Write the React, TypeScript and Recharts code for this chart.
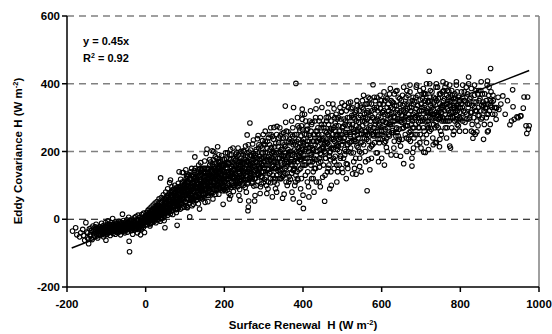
import React from "react";
import { ScatterChart, Scatter, XAxis, YAxis, ReferenceLine } from "recharts";

// Surface Renewal H (x) vs Eddy Covariance H (y), W m-2, flat [x, y, x, y, ...]
const ptsNeg = [
  -186,-35, -178,-25, -175,-46, -168,-52, -165,-40, -160,-30, -158,-48, -155,-62, -152,-10, -150,-38, -148,-55, -145,-58, -145,-72, -143,-28, -140,-45, -138,-33, -136,-60, -134,-20,
  -132,-42, -130,-50, -129,-30, -127,-38, -126,-15, -124,-45, -122,-55, -121,-25, -120,-35, -118,-40, -117,-22, -115,-48, -114,-30, -112,-12, -111,-36, -110,-44, -108,-28, -107,-52, -106,-18, -105,-34, -104,-40, -103,-24, -102,-10, -101,-62, -100,-30, -99,-45, -98,-20, -97,-36, -96,-5, -95,-28,
  -94,-40, -93,-15, -92,-26, -91,-33, -90,-48, -89,-20, -88,-10, -87,-30, -86,-38, -85,-22, -84,2, -83,-42, -82,-28, -81,-16, -80,-34, -79,-24, -78,-8, -77,-44, -76,-30, -75,-18, -74,-26, -73,-36, -72,-12, -71,-20, -70,-40, -69,-28, -68,-6, -67,-22, -66,-34, -65,-15, -64,-46, -63,-25, -62,-10, -61,-30, -60,-18, -59,15, -58,-36, -57,-22, -56,-4, -55,-28, -54,-14, -53,-40, -52,-20, -51,-8,
  -50,-30, -49,-16, -48,-2, -47,-24, -46,-38, -45,-12, -44,-20, -43,6, -42,-65, -41,-96, -40,-28, -39,-10, -38,-18, -37,-34, -36,0, -35,-22, -34,-14, -33,-44, -32,-6, -31,-26, -30,-16, -29,4, -28,-32, -27,-10, -26,-20, -25,8, -24,-2, -23,-28, -22,-14, -21,-40, -20,-6, -19,12, -18,-18, -17,-2, -16,-24, -15,6, -14,-10, -13,-46, -12,0, -11,-16, -10,14, -9,-8, -8,-20, -7,4, -6,-4, -5,18, -4,-12, -3,-39, -2,8, -1,-2,
  -147,-40, -139,-26, -133,-36, -128,-22, -123,-31, -119,-44, -116,-27, -113,-38, -109,-20, -106,-30, -103,-35, -99,-25, -97,-14, -94,-31, -92,-20, -90,-37, -88,-26, -86,-16, -84,-29, -82,-35, -80,-21, -78,-30, -76,-12, -74,-38, -72,-24, -70,-16, -68,-32, -66,-19, -64,-27, -62,-36, -60,-12, -58,-24, -56,-30, -54,-18, -52,-34, -50,-8, -48,-22, -46,-28, -44,-12, -42,-30, -40,-18, -38,-4, -36,-24, -34,-32, -32,-14, -30,-22, -28,-8, -26,-28, -24,-14, -22,-22, -20,-2, -18,-30, -16,-10, -14,-20, -12,-26, -10,-4, -8,-14, -6,-24, -4,0, -2,-18,
  -141,-50, -131,-46, -126,-26, -117,-34, -111,-24, -104,-46, -96,-40, -89,-30, -83,-20, -77,-24, -71,-30, -65,-8, -59,-30, -53,-26, -47,-10, -41,-24, -35,-12, -29,-26, -23,-18, -17,-12, -11,-30, -5,-8,
];
const ptsLow = [
  0,10, 1,-8, 2,20, 3,2, 4,-16, 5,14, 6,26, 7,4, 8,-6, 9,30, 10,12, 11,-20, 12,22, 13,6, 14,36, 15,16, 16,-2, 17,28, 18,10, 19,42, 20,18, 21,0, 22,32, 23,12, 24,48, 25,22, 26,-10, 27,38, 28,16, 29,52, 30,26, 31,6, 32,44, 33,20, 34,60, 35,30, 36,10, 37,50, 38,122, 39,24, 40,64, 41,36, 42,14, 43,56, 44,30, 45,72, 46,40, 47,-4, 48,62, 49,-25, 50,34,
  51,80, 52,46, 53,20, 54,68, 55,38, 56,90, 57,54, 58,26, 59,74, 60,44, 61,108, 62,60, 63,116, 64,32, 65,82, 66,50, 67,96, 68,66, 69,14, 70,40, 71,88, 72,58, 73,76, 74,100, 75,46, 76,70, 77,28, 78,92, 79,62, 80,-18, 81,84, 82,52, 83,106, 84,72, 85,140, 86,40, 87,94, 88,64, 89,118, 90,80, 91,56, 92,100, 93,138, 94,74, 95,90, 96,138, 97,60, 98,112, 99,84, 100,50, 102,146, 104,96,
  2,0, 4,8, 6,-4, 8,16, 10,-2, 12,6, 14,-12, 16,12, 18,24, 20,4, 22,-6, 24,20, 26,10, 28,30, 30,0, 32,18, 34,8, 36,34, 38,14, 40,2, 42,26, 44,40, 46,18, 48,8, 50,48, 52,22, 54,36, 56,12, 58,58, 60,28, 62,42, 64,70, 66,24, 68,46, 70,60, 72,34, 74,80, 76,52, 78,20, 80,66, 82,40, 84,88, 86,58, 88,30, 90,72, 92,46, 94,96, 96,62, 98,36, 100,78,
  3,14, 7,-10, 11,4, 15,26, 19,8, 23,-2, 27,22, 31,40, 35,16, 39,4, 43,32, 47,20, 51,58, 55,26, 59,44, 63,16, 67,36, 71,76, 75,30, 79,50, 83,60, 87,46, 91,84, 95,54, 99,102, 57,70, 61,34, 65,64, 69,28, 73,50, 77,82, 81,30, 85,50, 89,98, 93,62, 97,80, 13,18, 17,-8, 21,30, 25,2, 29,14, 33,34, 37,-6, 41,48, 45,10, 49,42, 53,64, 9,0, 5,-2, 1,4,
  5,6, 9,18, 14,2, 18,-4, 23,28, 27,8, 32,-2, 36,22, 41,14, 45,28, 50,16, 54,50, 58,36, 63,54, 67,80, 71,46, 76,62, 80,44, 85,78, 89,56, 94,84, 98,70, 12,-14, 21,16, 30,34, 39,38, 48,26, 57,42, 66,72, 75,88, 84,36, 93,110,
  3,-4, 8,10, 13,24, 19,-2, 24,12, 29,40, 34,18, 40,30, 44,4, 49,54, 53,38, 59,20, 64,48, 68,86, 73,38, 78,70, 82,96, 87,72, 92,34, 97,94,
];
const ptsLow2 = [
  101,70, 103,120, 105,36, 106,88, 107,104, 108,62, 110,132, 111,78, 112,7, 113,98, 114,56, 115,116, 116,84, 117,150, 118,70, 119,108, 120,92, 121,44, 122,126, 123,80, 124,100, 125,184, 126,66, 127,114, 128,90, 129,140, 130,58, 131,106, 132,84, 133,124, 134,72, 135,160, 136,96, 137,30, 138,118, 139,86, 140,167, 141,104, 142,64, 143,132, 144,92, 145,150, 146,110, 147,76, 148,126, 149,98, 150,172, 151,50, 152,116,
  153,136, 154,194, 155,88, 156,207, 157,120, 158,104, 159,146, 160,70, 161,128, 162,92, 163,160, 164,112, 165,169, 166,80, 167,140, 168,100, 169,202, 170,124, 171,60, 172,150, 173,200, 174,108, 175,132, 176,86, 177,166, 178,118, 179,142, 180,96, 181,180, 182,126, 183,214, 184,104, 185,152, 186,74, 187,136, 188,112, 189,170, 190,90, 191,146, 192,128, 193,188, 194,100, 195,158, 196,120, 197,44, 198,140, 199,110, 200,176, 201,132, 202,84,
  104,60, 108,84, 112,48, 116,100, 120,70, 124,120, 128,56, 132,94, 136,76, 140,112, 144,60, 148,136, 152,88, 156,70, 160,118, 164,96, 168,146, 172,80, 176,110, 180,132, 184,90, 188,154, 192,106, 196,84, 200,140,
  102,92, 106,34, 110,110, 114,72, 118,128, 122,58, 126,96, 130,116, 134,46, 138,100, 142,142, 146,84, 150,104, 154,130, 158,52, 162,108, 166,126, 170,92, 174,156, 178,74, 182,112, 186,168, 190,122, 194,144, 198,96,
  101,52, 105,76, 109,96, 113,64, 117,86, 121,106, 125,80, 129,124, 133,66, 137,90, 141,118, 145,74, 149,112, 153,96, 157,150, 161,84, 165,114, 169,136, 173,88, 177,128, 181,104, 185,138, 189,98, 193,120, 197,160,
  103,40, 107,112, 111,84, 115,58, 119,94, 123,138, 127,70, 131,102, 135,128, 139,62, 143,96, 147,118, 151,140, 155,108, 159,92, 163,130, 167,76, 171,110, 175,148, 179,118, 183,136, 187,94, 191,172, 195,106, 199,126,
  104,128, 112,118, 118,40, 126,150, 134,104, 142,86, 150,128, 158,122, 166,98, 174,126, 182,150, 190,110, 198,160, 109,70, 117,62, 125,110, 133,146, 141,70, 149,88, 157,134, 165,144, 173,112, 181,86, 189,140, 197,118,
  102,110, 107,80, 113,122, 119,76, 124,144, 130,96, 136,138, 141,90, 147,100, 153,150, 158,80, 164,122, 170,162, 176,98, 181,142, 187,120, 193,154, 199,88, 106,126, 115,140, 128,72, 139,150, 152,74, 163,176, 177,184, 186,190, 195,176,
  103,84, 108,130, 114,94, 120,54, 126,124, 131,80, 137,112, 143,146, 148,64, 154,112, 160,150, 166,110, 171,130, 178,150, 183,100, 189,160, 194,132, 200,112, 105,100, 116,130, 127,96, 138,130, 149,150, 161,100, 172,176, 184,170, 196,146,
];
const ptsMid = [
  204,150, 206,118, 208,196, 210,104, 212,166, 214,136, 216,70, 218,156, 220,122, 222,210, 224,144, 226,96, 228,174, 230,130, 232,186, 234,112, 236,160, 238,140, 240,56, 242,200, 244,124, 246,152, 248,100, 250,180, 252,136, 254,216, 256,116, 258,249, 259,168, 260,25, 261,36, 262,54, 263,146, 265,284, 266,190, 267,128, 268,160, 270,106, 272,222, 274,140, 276,176, 277,54, 279,120, 280,200,
  282,150, 284,238, 286,247, 288,132, 290,186, 292,96, 294,164, 296,210, 298,140, 300,180, 302,118, 304,230, 306,160, 308,76, 310,196, 312,146, 314,250, 316,174, 318,108, 320,212, 322,156, 324,130, 326,271, 328,190, 330,90, 332,168, 334,274, 336,144, 338,226, 340,180, 342,120, 344,206, 346,160, 348,62, 350,240, 352,188, 354,134, 355,334, 356,216, 358,170, 360,100, 362,258, 364,196, 366,150, 368,226, 370,176, 372,80, 374,246, 376,330, 378,204, 380,160, 382,401, 384,230, 386,120, 388,190, 390,270,
  202,110, 205,140, 207,86, 209,164, 211,120, 213,98, 215,150, 217,176, 219,110, 221,134, 223,82, 225,160, 227,122, 229,192, 231,104, 233,146, 235,170, 237,124, 239,88, 241,156, 243,114, 245,196, 247,140, 249,118, 251,166, 253,94, 255,150, 257,128, 259,186, 261,108, 263,170, 265,136, 267,204, 269,150, 271,120, 273,178, 275,98, 277,156, 279,190, 281,132, 283,168, 285,112, 287,210, 289,148, 291,176, 293,126, 295,196, 297,160, 299,108, 300,222,
  203,160, 206,94, 209,132, 212,180, 215,116, 218,140, 221,168, 224,100, 227,146, 230,178, 233,120, 236,190, 239,136, 242,162, 245,104, 248,144, 251,200, 254,130, 257,160, 260,118, 263,198, 266,142, 269,172, 272,110, 275,186, 278,144, 281,206, 284,160, 287,130, 290,150, 293,216, 296,178, 299,140,
  204,126, 208,150, 212,76, 216,128, 220,100, 224,180, 228,136, 232,114, 236,150, 240,124, 244,170, 248,202, 252,150, 256,170, 260,140, 264,120, 268,188, 272,156, 276,132, 280,170, 284,136, 288,186, 292,150, 296,124, 300,160,
  201,90, 210,140, 214,190, 222,146, 226,126, 234,96, 238,168, 246,124, 250,150, 258,104, 262,152, 270,136, 274,194, 282,182, 286,150, 294,104, 298,196, 205,180, 217,94, 229,154, 241,118, 253,176, 265,162, 277,120, 289,166, 297,232, 211,164, 223,120, 235,140, 247,166, 259,140, 271,166, 283,146, 295,140,
  203,196, 209,118, 216,206, 222,160, 228,112, 235,210, 241,172, 247,108, 254,184, 261,220, 268,124, 274,234, 281,100, 288,220, 294,180, 299,250, 213,60, 237,70, 256,80, 278,70, 291,76,
  206,166, 212,126, 218,190, 224,120, 230,160, 236,106, 242,180, 248,130, 208,100, 219,140, 231,196, 243,146,
];
const ptsMid2 = [
  392,214, 394,150, 396,176, 398,325, 398,310, 398,295, 400,71, 401,32, 402,236, 404,200, 406,130, 408,264, 410,180, 412,220, 414,96, 416,248, 418,190, 420,160, 422,280, 424,206, 426,140, 428,230, 430,176, 432,300, 434,110, 436,349, 438,216, 440,250, 442,154, 444,194, 446,270, 448,232, 450,124, 452,210, 455,53, 456,260, 458,180, 460,290, 462,224, 464,150, 465,341, 466,246, 468,196, 470,268, 472,100, 474,236, 476,340, 478,206, 480,170, 482,284, 484,250, 486,216,
  302,150, 304,196, 306,124, 308,176, 310,230, 312,110, 314,160, 316,204, 318,140, 320,182, 322,244, 324,120, 326,170, 328,214, 330,150, 332,196, 334,104, 336,180, 338,240, 340,140, 342,200, 344,166, 346,252, 348,126, 350,186, 352,220, 354,150, 356,176, 358,260, 360,134, 362,206, 364,168, 366,236, 368,118, 370,200, 372,160, 374,270, 376,146, 378,226, 380,186, 382,130, 384,250, 386,170, 388,210, 390,146, 392,262, 394,194, 396,120, 398,230, 400,180,
  301,170, 305,140, 309,210, 313,186, 317,120, 321,196, 325,236, 329,172, 333,130, 337,214, 341,180, 345,120, 349,206, 353,166, 357,240, 361,184, 365,126, 369,250, 373,190, 377,170, 381,220, 385,140, 389,236, 393,176, 397,210,
  303,220, 307,100, 311,170, 315,136, 319,250, 323,180, 327,110, 331,224, 335,166, 339,196, 343,144, 347,226, 351,130, 355,196, 359,156, 363,230, 367,190, 371,136, 375,220, 379,250, 383,180, 387,116, 391,200, 395,246, 399,160,
  306,186, 312,240, 318,176, 324,200, 330,120, 336,160, 342,246, 348,180, 354,214, 360,166, 366,200, 372,230, 378,150, 384,200, 390,184, 396,276, 309,150, 321,160, 333,250, 345,190, 357,110, 369,170, 381,110, 393,224, 315,220, 327,150, 339,120, 351,256, 363,190, 375,144, 387,276, 399,206,
  402,190, 404,250, 406,160, 408,220, 410,276, 412,140, 414,200, 416,230, 418,170, 420,260, 422,120, 424,210, 426,250, 428,180, 430,290, 432,150, 434,230, 436,200, 438,270, 440,166, 442,236, 444,300, 446,190, 448,250, 450,214, 452,160, 454,280, 456,226, 458,196, 460,256, 462,140, 464,300, 466,220, 468,260, 470,176, 472,240, 474,306, 476,210, 478,270, 480,230, 482,186, 484,310, 486,246, 488,206, 490,276, 492,160, 494,250, 496,296, 498,220, 500,270,
  401,226, 405,180, 409,250, 413,210, 417,290, 421,190, 425,230, 429,150, 433,260, 437,230, 441,290, 445,170, 449,236, 453,270, 457,180, 461,226, 465,280, 469,200, 473,266, 477,180, 481,300, 485,220, 489,250, 493,200, 497,316,
  403,160, 407,290, 411,230, 415,170, 419,240, 423,286, 427,204, 431,220, 435,176, 439,240, 443,206, 447,280, 451,240, 455,200, 459,300, 463,250, 467,186, 471,290, 475,250, 479,150, 483,260, 487,296, 491,236, 495,180, 499,250,
  406,206, 418,212, 430,250, 442,180, 454,220, 466,160, 478,236, 490,216, 412,266, 424,170, 436,260, 448,210, 460,230, 472,210, 484,276, 496,240,
  304,260, 311,90, 318,270, 326,196, 333,80, 341,270, 347,146, 356,286, 364,110, 371,290, 379,100, 386,300, 394,90, 399,264, 322,66, 352,74, 375,60, 391,50,
  404,310, 411,110, 419,320, 426,120, 433,326, 441,110, 448,330, 456,130, 463,316, 471,140, 479,326, 486,160, 494,330, 499,150, 415,66, 428,80, 444,96, 468,90, 486,110,
];
const ptsUpper = [
  488,140, 490,300, 492,260, 494,230, 496,186, 498,318, 499,344, 501,138, 502,274, 504,240, 506,206, 508,290, 510,164, 512,256, 513,162, 514,220, 516,344, 518,280, 520,244, 522,196, 524,306, 526,134, 528,266, 530,230, 532,296, 534,180, 535,133, 536,320, 538,250, 540,212, 542,286, 544,156, 546,334, 548,262, 550,228, 552,300, 554,366, 556,240, 558,200, 560,282,
  502,230, 504,296, 506,190, 508,256, 510,320, 512,220, 514,276, 516,200, 518,300, 520,250, 522,326, 524,230, 526,280, 528,196, 530,310, 532,256, 534,230, 536,290, 538,336, 540,240, 542,270, 544,200, 546,306, 548,250, 550,330, 552,276, 554,220, 556,310, 558,260, 560,340, 562,236, 564,296, 566,266, 568,316, 570,210, 572,290, 574,340, 576,250, 578,300, 580,270, 582,226, 584,350, 586,290, 588,250, 590,320, 592,276, 594,340, 596,236, 598,300, 600,260,
  501,270, 505,240, 509,200, 513,300, 517,256, 521,210, 525,330, 529,260, 533,316, 537,216, 541,300, 545,266, 549,196, 553,326, 557,290, 561,260, 565,320, 569,246, 573,306, 577,220, 581,330, 585,260, 589,296, 593,250, 597,326,
  503,180, 507,280, 511,250, 515,330, 519,226, 523,270, 527,300, 531,236, 535,276, 539,260, 543,320, 547,226, 551,290, 555,250, 559,300, 563,340, 567,230, 571,276, 575,320, 579,250, 583,290, 587,330, 591,236, 595,280, 599,350,
  506,336, 514,150, 521,346, 529,170, 537,350, 544,180, 551,350, 559,170, 566,360, 574,180, 581,360, 589,196, 596,366, 510,120, 531,150, 548,140, 570,146, 592,170,
  562,314, 563,84, 564,250, 566,176, 568,342, 570,356, 572,270, 574,216, 576,300,
  578,397, 580,246, 582,324, 584,280, 586,196, 588,360, 590,258, 592,304, 594,226, 596,340, 598,272, 600,180, 602,316, 604,290, 606,244, 607,160, 608,350, 610,264, 612,212, 614,330, 616,296, 618,250, 620,370, 622,280, 624,190, 626,316, 628,262, 630,344, 632,230, 634,300, 636,378, 637,189, 638,270, 640,322, 642,246, 644,290, 646,356, 648,216, 650,306, 652,268, 654,336, 656,164, 658,290, 660,250,
  602,290, 604,340, 606,260, 608,310, 610,230, 612,286, 614,356, 616,270, 618,320, 620,246, 622,300, 624,350, 626,280, 628,326, 630,256, 632,370, 634,290, 636,246, 638,336, 640,296, 642,360, 644,266, 646,316, 648,290, 650,350, 652,236, 654,306, 656,270, 658,340, 660,300, 662,360, 664,276, 666,326, 668,296, 670,256, 672,376, 674,320, 676,280, 678,350, 680,310, 682,270, 684,346, 686,300, 688,326, 690,220, 692,366, 694,286, 696,320, 698,250, 700,340,
  601,250, 605,320, 609,286, 613,240, 617,340, 621,310, 625,256, 629,290, 633,336, 637,266, 641,310, 645,236, 649,320, 653,366, 657,296, 661,276, 665,340, 669,310, 673,230, 677,296, 681,340, 685,250, 689,306, 693,270, 697,380,
  603,316, 611,360, 619,280, 627,346, 635,316, 643,230, 651,286, 659,316, 667,366, 675,250, 683,300, 691,336, 699,290, 607,226, 615,306, 623,330, 631,300, 639,256, 647,340, 655,320, 663,240, 671,330, 679,270, 687,360, 695,310,
];
const ptsHigh = [
  662,320, 664,380, 666,276, 668,236, 670,346, 672,300, 674,260, 676,330, 677,180, 677,157, 678,290, 679,197, 680,360, 682,240, 684,316, 686,280, 688,390, 690,250, 692,336, 694,300, 696,270, 698,352, 700,210, 702,320, 704,290, 706,370, 707,198, 708,260, 710,336, 711,197, 712,300, 714,400, 716,276, 718,346, 719,206, 720,316, 721,437, 722,260, 724,380, 726,296, 728,330, 730,240, 732,360, 734,310, 736,226, 738,286, 739,226, 740,350, 742,390, 744,270, 746,320, 747,214, 748,300, 750,370,
  702,300, 704,356, 706,270, 708,330, 710,290, 712,370, 714,250, 716,316, 718,290, 720,350, 722,300, 724,336, 726,266, 728,376, 730,310, 732,280, 734,346, 736,300, 738,390, 740,276, 742,326, 744,356, 746,296, 748,340, 750,260, 752,316, 754,376, 756,330, 758,290, 760,356, 762,310, 764,340, 766,270, 768,380, 770,320, 772,290, 774,350, 776,316, 778,270, 780,366, 782,300, 784,336, 786,290, 788,356, 790,310, 792,376, 794,296, 796,330, 798,350, 800,296,
  703,330, 707,296, 711,350, 715,320, 719,270, 723,360, 727,310, 731,340, 735,270, 739,316, 743,296, 747,370, 751,330, 755,300, 759,336, 763,290, 767,326, 771,376, 775,300, 779,336, 783,356, 787,316, 791,336, 795,276, 799,316,
  705,240, 713,316, 721,280, 729,300, 737,356, 745,316, 753,290, 761,390, 769,300, 777,360, 785,330, 793,320, 709,370, 717,346, 725,316, 733,310, 741,306, 749,300, 757,350, 765,366, 773,336, 781,316, 789,296, 797,346,
  606,376, 614,200, 622,386, 631,210, 639,380, 648,186, 656,390, 664,200, 672,396, 681,210, 689,396, 697,226, 706,386, 714,226, 722,400, 731,220, 739,400, 748,236, 756,406, 765,240, 773,396, 782,250, 790,406, 798,260,
  752,250, 754,336, 756,296, 758,380, 760,320, 762,270, 764,400, 766,340, 768,290, 770,360, 772,310, 773,216, 775,210, 776,346, 778,380, 780,300, 782,330, 784,260, 786,370, 788,320, 790,396, 792,280, 794,340, 796,360, 798,300, 800,330, 803,376, 806,290, 809,350, 812,316, 815,390, 818,340, 821,420, 824,300, 827,360, 830,280, 832,239, 833,256, 836,330, 838,251, 840,380, 842,258, 845,306, 848,350, 852,320, 856,370, 859,236, 862,340, 866,300, 869,408, 869,258, 871,261, 873,390, 877,445, 880,330,
  802,340, 804,300, 806,360, 808,320, 810,376, 812,286, 814,346, 816,310, 818,370, 820,330, 822,296, 824,356, 826,316, 828,386, 830,336, 834,300, 836,366, 838,320, 840,346, 842,290, 844,370, 846,330, 848,306, 850,356, 852,380, 854,336, 856,300, 858,346, 860,320, 862,370, 864,330, 866,350, 868,310, 870,340, 872,366, 874,320, 876,350, 878,376, 880,346, 882,310,
  805,330, 811,350, 817,296, 823,340, 829,316, 835,346, 841,320, 847,380, 853,296, 859,336, 865,326, 871,310, 877,336, 883,366, 887,330,
  806,396, 813,260, 821,400, 828,260, 836,396, 845,276, 853,406, 861,280, 868,396, 876,280,
  884,350, 888,310, 891,330, 891,295, 892,328, 896,360, 898,324, 903,340, 908,364, 914,310, 920,350, 926,279, 930,290, 933,382, 934,332, 937,295, 944,302, 947,300, 953,305, 954,305, 960,328, 962,361, 967,276, 969,253, 971,361, 973,266, 975,276,
];

// fitted line y = 0.45x, endpoints
const fitLine = [
  [-188, -85],
  [975, 439],
];
const xTicks = [-200, 0, 200, 400, 600, 800, 1000];
const yTicks = [-200, 0, 200, 400, 600];
const gridValues = [200, 400, 600];

const toPts = (arr: number[]) => {
  const out: { x: number; y: number }[] = [];
  for (let i = 0; i < arr.length; i += 2) out.push({ x: arr[i], y: arr[i + 1] });
  return out;
};
const allPts = [
  ...toPts(ptsNeg),
  ...toPts(ptsLow),
  ...toPts(ptsLow2),
  ...toPts(ptsMid),
  ...toPts(ptsMid2),
  ...toPts(ptsUpper),
  ...toPts(ptsHigh),
];

const FONT = "'Liberation Sans', Arial, sans-serif";
const tickStyle = { fontSize: 11.5, fontWeight: 700, fill: "#000", fontFamily: FONT };

const Ring = (p: any) => (
  <circle cx={p.cx} cy={p.cy} r={2.3} fill="none" stroke="#000" strokeWidth={1.05} />
);

export default function App() {
  return (
    <div style={{ position: "relative", width: 552, height: 334, background: "#fff" }}>
      <style>{`body{margin:0;background:#fff}`}</style>
      <ScatterChart width={552} height={334} margin={{ top: 16, right: 13, left: 0, bottom: 0 }}>
        {gridValues.map((v) => (
          <ReferenceLine key={v} y={v} stroke="#808080" strokeWidth={1.5} strokeDasharray="7 5" />
        ))}
        <ReferenceLine y={0} stroke="#000" strokeWidth={1} strokeDasharray="7 5" />
        <ReferenceLine x={1000} stroke="#808080" strokeWidth={1.5} />
        <XAxis
          type="number"
          dataKey="x"
          domain={[-200, 1000]}
          ticks={xTicks}
          allowDataOverflow
          height={47}
          stroke="#000"
          strokeWidth={1.5}
          tickSize={5}
          tickMargin={8}
          tick={tickStyle}
          tickLine={{ stroke: "#000", strokeWidth: 1.5 }}
        />
        <YAxis
          type="number"
          dataKey="y"
          domain={[-200, 600]}
          ticks={yTicks}
          allowDataOverflow
          width={67}
          stroke="#000"
          strokeWidth={1.5}
          tickSize={5}
          tickMargin={2}
          tick={tickStyle}
          tickLine={{ stroke: "#000", strokeWidth: 1.5 }}
        />
        <Scatter data={allPts} shape={Ring} isAnimationActive={false} />
        <ReferenceLine
          segment={[
            { x: fitLine[0][0], y: fitLine[0][1] },
            { x: fitLine[1][0], y: fitLine[1][1] },
          ]}
          stroke="#000"
          strokeWidth={1.5}
        />
      </ScatterChart>
      <svg
        width={552}
        height={334}
        style={{ position: "absolute", left: 0, top: 0, pointerEvents: "none" }}
        fontFamily={FONT}
        fontWeight={700}
      >
        <text x={83} y={45} fontSize={11}>y = 0.45x</text>
        <text x={83} y={62} fontSize={11}>
          R<tspan dy={-4} fontSize={7}>2</tspan>
          <tspan dy={4}> = 0.92</tspan>
        </text>
        <text x={303} y={329} fontSize={11.5} textAnchor="middle">
          {"Surface Renewal\u00a0\u00a0H (W m"}
          <tspan dy={-4} fontSize={7.5}>-2</tspan>
          <tspan dy={4}>)</tspan>
        </text>
        <text x={22} y={151} fontSize={11.5} textAnchor="middle" transform="rotate(-90 22 151)">
          Eddy Covariance H (W m<tspan dy={-4} fontSize={7.5}>-2</tspan>
          <tspan dy={4}>)</tspan>
        </text>
      </svg>
    </div>
  );
}
